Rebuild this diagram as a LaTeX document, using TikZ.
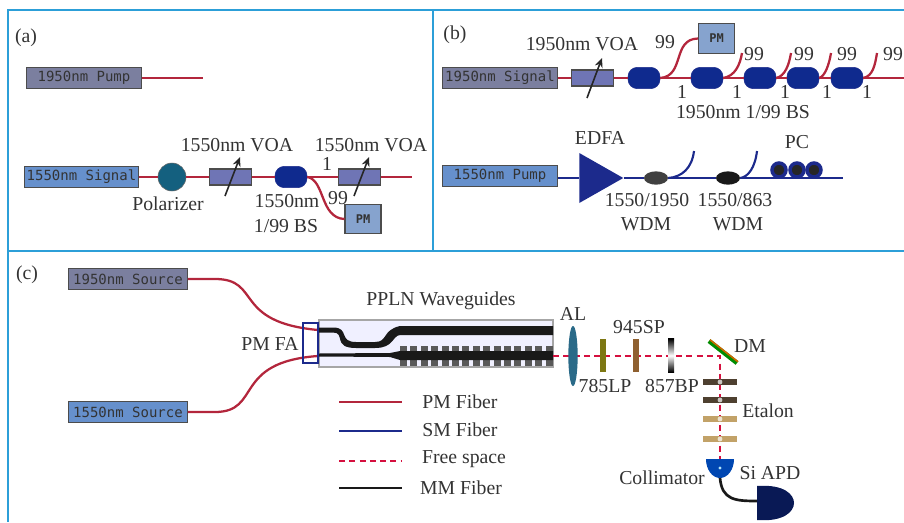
\documentclass[tikz,border=0pt]{standalone}
\usepackage{fontspec}
\setmainfont{Liberation Serif}
\setmonofont{DejaVu Sans Mono}
\usepackage{tikz}
\usetikzlibrary{arrows.meta, shapes.geometric}
\definecolor{framec}{HTML}{2C9FD8}
\definecolor{redf}{HTML}{B3263C}
\definecolor{bluef}{HTML}{1C2A8C}
\definecolor{navy}{HTML}{0F2A8E}
\definecolor{greyp}{HTML}{7B7F9F}
\definecolor{bluep}{HTML}{6690CC}
\definecolor{voac}{HTML}{6F75B5}
\definecolor{pmc}{HTML}{86A3CE}
\definecolor{tanc}{HTML}{C2A268}
\definecolor{brownc}{HTML}{4E4030}
\definecolor{tealc}{HTML}{14607F}
\definecolor{lensc}{HTML}{2A6A88}
\definecolor{freec}{HTML}{D5103F}
\tikzset{
    lbl/.style={inner sep=0pt,font=\fontsize{14.8}{17}\selectfont,text=black!80},
    srcbox/.style={draw=black!70,thick,inner sep=0pt,minimum width=86pt,minimum height=16pt,font=\ttfamily\fontsize{10.5}{12}\selectfont,text=black!80},
    pmbox/.style={draw=black!70,thick,fill=pmc,inner sep=0pt,minimum width=27pt,minimum height=22pt,font=\ttfamily\bfseries\fontsize{9}{10}\selectfont,text=black!80},
    voa/.style={draw=black!70,thick,fill=voac,inner sep=0pt,minimum width=32pt,minimum height=12pt},
    bs/.style={fill=navy,draw=bluef,rounded corners=7pt,inner sep=0pt,minimum width=24pt,minimum height=16pt},
    wdm/.style={ellipse,inner sep=0pt,minimum width=18pt,minimum height=10pt},
    pcoil/.style={circle,draw=bluef,line width=2.6pt,fill=black!85,inner sep=0pt,minimum size=10.5pt},
    plate/.style={inner sep=0pt,minimum width=4.5pt,minimum height=25pt},
    etal/.style={inner sep=0pt,minimum width=25pt,minimum height=4pt},
    pmf/.style={draw=redf,line width=1.7pt},
    smf/.style={draw=bluef,line width=1.6pt},
    mmf/.style={draw=black!90,line width=2pt},
    free/.style={draw=freec,line width=2pt,dash pattern=on 4.5pt off 3.2pt},
    vol/.style={-{Stealth[length=7pt,width=6pt]},line width=1.2pt,black!85},
}
\begin{document}
\begin{tikzpicture}[x=0.75pt,y=-0.75pt]
\useasboundingbox (0,0) rectangle (904,522);
\draw[framec,line width=1.2pt] (904,10) -- (8,10) -- (8,522);
\draw[framec,line width=1.2pt] (433,10) -- (433,251);
\draw[framec,line width=1.2pt] (8,251) -- (904,251);

% (a)
\node[lbl] at (26,38) {(a)};
\node[srcbox,fill=greyp] (pa) at (84,78) {1950nm Pump};
\coordinate (pae) at (203,78);
\node[srcbox,fill=bluep] (sa) at (81.5,177) {1550nm Signal};
\node[circle,draw=black!60,fill=tealc,inner sep=0pt,minimum size=21pt] (pol) at (172,177) {};
\node[voa] (va) at (230.5,177) {};
\node[bs] (ba) at (291,177) {};
\node[voa] (vb) at (359.5,177) {};
\coordinate (ae) at (412,177);
\node[pmbox] (pma) at (363,219) {PM};
\path [pmf] (pa) edge (pae);
\path [pmf] (sa) edge (pol);
\path [pmf] (pol) edge (va);
\path [pmf] (va) edge (ba);
\path [pmf] (ba) edge (vb);
\path [pmf] (vb) edge (ae);
\draw [pmf] (ba.east) .. controls (325,180) and (320,218) .. (pma.west);
\coordinate (aa1) at (225,196);
\coordinate (aa2) at (240,157);
\coordinate (ab1) at (354,196);
\coordinate (ab2) at (369,157);
\draw[vol] (aa1) -- (aa2);
\draw[vol] (ab1) -- (ab2);
\node[lbl] at (237,145) {1550nm VOA};
\node[lbl] at (371,145) {1550nm VOA};
\node[lbl] at (168,204) {Polarizer};
\node[lbl] at (327,164) {1};
\node[lbl] at (338,198) {99};
\node[lbl] at (287,201) {1550nm};
\node[lbl] at (286,226) {1/99 BS};

% (b)
\node[lbl] at (455,35) {(b)};
\node[srcbox,fill=greyp] (sb) at (500,78) {1950nm Signal};
\node[voa] (vc) at (592.5,78) {};
\node[bs] (b1) at (644,78) {};
\node[bs] (b2) at (707,78) {};
\node[bs] (b3) at (760,78) {};
\node[bs] (b4) at (803,78) {};
\node[bs] (b5) at (847,78) {};
\coordinate (be) at (904,78);
\node[pmbox] (pmb) at (716.5,38.5) {PM};
\coordinate (t2) at (742,53);
\coordinate (t3) at (791,53);
\coordinate (t4) at (831,53);
\coordinate (t5) at (877,53);
\path [pmf] (sb) edge (vc);
\path [pmf] (vc) edge (b1);
\path [pmf] (b1) edge (b2);
\path [pmf] (b2) edge (b3);
\path [pmf] (b3) edge (b4);
\path [pmf] (b4) edge (b5);
\path [pmf] (b5) edge (be);
\draw [pmf] (b1.east) .. controls (685,76) and (672,39) .. (pmb.west);
\draw [pmf] (b2.east) .. controls (735,76) and (740,65) .. (t2);
\draw [pmf] (b3.east) .. controls (785,76) and (789,65) .. (t3);
\draw [pmf] (b4.east) .. controls (825,76) and (829,65) .. (t4);
\draw [pmf] (b5.east) .. controls (873,76) and (875,65) .. (t5);
\coordinate (ac1) at (587,98);
\coordinate (ac2) at (602,58);
\draw[vol] (ac1) -- (ac2);
\node[lbl] at (582,44) {1950nm VOA};
\node[lbl] at (665,42) {99};
\node[lbl] at (754,54) {99};
\node[lbl] at (804,54) {99};
\node[lbl] at (847,54) {99};
\node[lbl] at (893,54) {99};
\node[lbl] at (682,92) {1};
\node[lbl] at (737,92) {1};
\node[lbl] at (785,92) {1};
\node[lbl] at (827,92) {1};
\node[lbl] at (867,92) {1};
\node[lbl] at (743,112) {1950nm 1/99 BS};

\node[srcbox,fill=bluep] (pb) at (500,176) {1550nm Pump};
\node[isosceles triangle,isosceles triangle stretches,fill=bluef,inner sep=0pt,minimum width=37.5pt,minimum height=33pt,anchor=lower side] (ed) at (579,178) {};
\node[wdm,fill=black!75] (w1) at (656,178) {};
\node[wdm,fill=black!90] (w2) at (728,178) {};
\coordinate (pbe) at (843,178);
\coordinate (w1t) at (694,151);
\coordinate (w2t) at (757,151);
\path [smf] (ed.lower side -| pb.east) edge (ed.lower side);
\path [smf] (ed.apex) edge (w1);
\path [smf] (w1) edge (w2);
\path [smf] (w2) edge (pbe);
\draw [smf] (w1.east) .. controls (682,177) and (692,168) .. (w1t);
\draw [smf] (w2.east) .. controls (748,177) and (755,168) .. (w2t);
\node[pcoil] (c1) at (779,170) {};
\node[pcoil] (c2) at (797,170) {};
\node[pcoil] (c3) at (814,170) {};
\node[lbl] at (600,138) {EDFA};
\node[lbl] at (797,142) {PC};
\node[lbl] at (647,200) {1550/1950};
\node[lbl] at (646,224) {WDM};
\node[lbl] at (735,200) {1550/863};
\node[lbl] at (738,224) {WDM};

% (c)
\node[lbl] at (27,275) {(c)};
\node[srcbox,fill=greyp,minimum width=89pt] (s1) at (128,279) {1950nm Source};
\node[srcbox,fill=bluep,minimum width=89pt] (s2) at (128,412) {1550nm Source};
\draw[draw=black!35,thick,fill=blue!6] (319,320) rectangle (553,367);
\coordinate (fa1) at (318,330);
\coordinate (fa2) at (318,356);
\draw [pmf] (s1.east) -- (215,279) .. controls (262,279) and (232,322) .. (fa1);
\draw [pmf] (s2.east) -- (215,412) .. controls (262,412) and (232,362) .. (fa2);
\draw[bluef,line width=1.5pt] (303,323) rectangle (318,363);
% waveguides
\fill[black!90] (319,327.5) -- (333,327.5) .. controls (350,327.5) and (338,342) .. (356,342) -- (375,342) .. controls (388,342) and (382,330) .. (400,326) -- (553,326) -- (553,335) -- (400,335) .. controls (392,336) and (394,348) .. (375,348) -- (356,348) .. controls (332,348) and (346,332.5) .. (333,332.5) -- (319,332.5) -- cycle;
\foreach \i in {0,...,14}
    \fill[black!65] ({400+10.4*\i},346) rectangle ({407+10.4*\i},366);
\fill[black!90] (319,353.5) -- (390,353) -- (400,351) -- (553,351) -- (553,360) -- (400,360) -- (390,357) -- (319,356.5) -- cycle;
\node[lbl] at (441,301) {PPLN Waveguides};
\node[lbl] at (270,344) {PM FA};

% legend
\coordinate (l1a) at (339,402);
\coordinate (l1b) at (402,402);
\coordinate (l2a) at (339,431);
\coordinate (l2b) at (402,431);
\coordinate (l3a) at (339,461);
\coordinate (l3b) at (402,461);
\coordinate (l4a) at (339,488);
\coordinate (l4b) at (402,488);
\draw[pmf] (l1a) -- (l1b);
\draw[smf] (l2a) -- (l2b);
\draw[free] (l3a) -- (l3b);
\draw[mmf] (l4a) -- (l4b);
\node[lbl] at (460,402) {PM Fiber};
\node[lbl] at (460,430) {SM Fiber};
\node[lbl] at (464,459) {Free space};
\node[lbl] at (461,488) {MM Fiber};

% free space
\coordinate (wgo) at (553,356);
\coordinate (dmc) at (720,356);
\coordinate (colc) at (720,459);
\draw[free] (wgo) -- (dmc) -- (colc);
\node[ellipse,fill=lensc,inner sep=0pt,minimum width=7pt,minimum height=45pt] (al) at (573,356) {};
\node[plate,fill=olive!85!black] (f1) at (603,355.5) {};
\node[plate,fill=brown!75!black] (f2) at (636,355.5) {};
\node[plate,shade,top color=black,bottom color=black,middle color=white] (f3) at (671,355.5) {};
\draw[line width=3.4pt,green!55!black] (709,341) -- (737,363);
\draw[line width=1.2pt,orange!80!black] (710,339.8) -- (738,361.8);
\foreach \y/\c [count=\i] in {382/brownc,400/brownc,419/tanc,439/tanc} {
    \node[etal,fill=\c] (e\i) at (720,\y) {};
    \fill[white,opacity=.7] (e\i.center) circle (2.4);
}
\fill[blue!60!cyan!70!black] (706,459) -- (734,459) arc (0:-180:14 and -19) -- cycle;
\fill[white!70!cyan] (720,468) circle (1.6);
\coordinate (colb) at (720,478);
\coordinate (apdw) at (757,501);
\fill[black!40!navy] (757,486) .. controls (785,484) and (794,495) .. (794,503) .. controls (794,512) and (783,522) .. (757,520) -- cycle;
\draw[mmf] (colb) .. controls (722,500) and (735,501) .. (apdw);
\node[lbl] at (573,314) {AL};
\node[lbl] at (639,327) {945SP};
\node[lbl] at (605,386) {785LP};
\node[lbl] at (672,386) {857BP};
\node[lbl] at (750,346) {DM};
\node[lbl] at (768,411) {Etalon};
\node[lbl] at (662,478) {Collimator};
\node[lbl] at (770,473) {Si APD};
\end{tikzpicture}
\end{document}
